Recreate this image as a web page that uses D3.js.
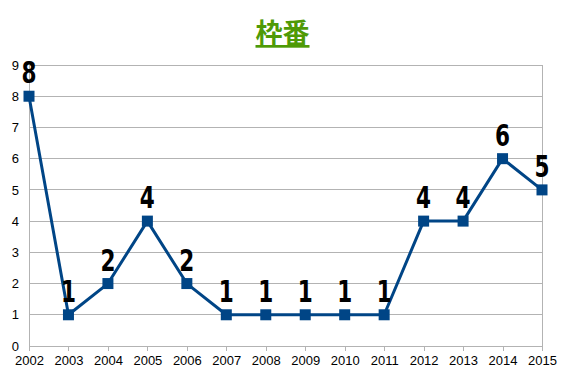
<!DOCTYPE html>
<html>
<head>
<meta charset="utf-8">
<script src="https://cdn.jsdelivr.net/npm/d3@7"></script>
<style>
  body { margin: 0; background: #fff; }
  text { font-family: "Liberation Sans", Arial, sans-serif; }
</style>
</head>
<body>
<div id="chart"></div>
<script>
const years = [2002, 2003, 2004, 2005, 2006, 2007, 2008, 2009, 2010, 2011, 2012, 2013, 2014, 2015];
const counts = [8, 1, 2, 4, 2, 1, 1, 1, 1, 1, 4, 4, 6, 5];
const yTicks = [0, 1, 2, 3, 4, 5, 6, 7, 8, 9];
const title = "枠番";

const width = 567, height = 378;
const margin = {top: 65, right: 25, bottom: 32, left: 29};

const svg = d3.select("#chart").append("svg")
  .attr("width", width)
  .attr("height", height);

const x = d3.scaleLinear()
  .domain([2002, 2015])
  .range([margin.left, width - margin.right]);

const y = d3.scaleLinear()
  .domain([0, 9])
  .range([height - margin.bottom, margin.top]);

// grid
svg.append("g")
  .selectAll("line")
  .data(yTicks)
  .join("line")
  .attr("x1", x(2002))
  .attr("x2", x(2015))
  .attr("y1", d => y(d))
  .attr("y2", d => y(d))
  .attr("stroke", "#b3b3b3")
  .attr("stroke-width", 1)
  .attr("shape-rendering", "crispEdges");

svg.append("line")
  .attr("x1", x(2015)).attr("x2", x(2015))
  .attr("y1", y(0)).attr("y2", y(9))
  .attr("stroke", "#b3b3b3")
  .attr("shape-rendering", "crispEdges");

// axes
let xAxis = g => g
  .attr("transform", `translate(0,${y(0)})`)
  .call(d3.axisBottom(x).tickValues(years).tickFormat(d3.format("d")).tickSize(5).tickSizeOuter(0))
  .call(g => g.select(".domain").attr("stroke", "#b3b3b3"))
  .call(g => g.selectAll(".tick line").attr("stroke", "#b3b3b3"))
  .call(g => g.selectAll(".tick text").attr("font-size", 13).attr("fill", "#000").attr("dy", "0.85em"));

let yAxis = g => g
  .attr("transform", `translate(${x(2002)},0)`)
  .call(d3.axisLeft(y).tickValues(yTicks).tickSize(0).tickPadding(10))
  .call(g => g.select(".domain").attr("stroke", "#b3b3b3"))
  .call(g => g.selectAll(".tick text").attr("font-size", 13).attr("fill", "#000"));

svg.append("g").call(xAxis).attr("shape-rendering", "crispEdges");
svg.append("g").call(yAxis).attr("shape-rendering", "crispEdges");

// line
const data = years.map((yr, i) => ({year: yr, value: counts[i]}));

svg.append("path")
  .datum(data)
  .attr("fill", "none")
  .attr("stroke", "#004586")
  .attr("stroke-width", 3)
  .attr("stroke-linejoin", "round")
  .attr("d", d3.line().x(d => x(d.year)).y(d => y(d.value)));

svg.append("g")
  .selectAll("rect")
  .data(data)
  .join("rect")
  .attr("x", d => x(d.year) - 5.5)
  .attr("y", d => y(d.value) - 5.5)
  .attr("width", 11)
  .attr("height", 11)
  .attr("fill", "#004586");

// value labels (condensed, tall)
svg.append("g")
  .selectAll("text")
  .data(data)
  .join("text")
  .attr("transform", d => `translate(${x(d.year)},${y(d.value) - 13}) scale(0.72,1)`)
  .attr("text-anchor", "middle")
  .style("font-family", "'DejaVu Sans', sans-serif")
  .attr("font-weight", "bold")
  .attr("font-size", 30)
  .attr("fill", "#000")
  .text(d => d.value);

// title
svg.append("text")
  .attr("x", width / 2 - 1)
  .attr("y", 43)
  .attr("text-anchor", "middle")
  .style("font-family", "'Noto Sans CJK JP', sans-serif")
  .attr("font-weight", "bold")
  .attr("font-size", 27)
  .attr("fill", "#4e9a06")
  .attr("text-decoration", "underline")
  .text(title);
</script>
</body>
</html>
